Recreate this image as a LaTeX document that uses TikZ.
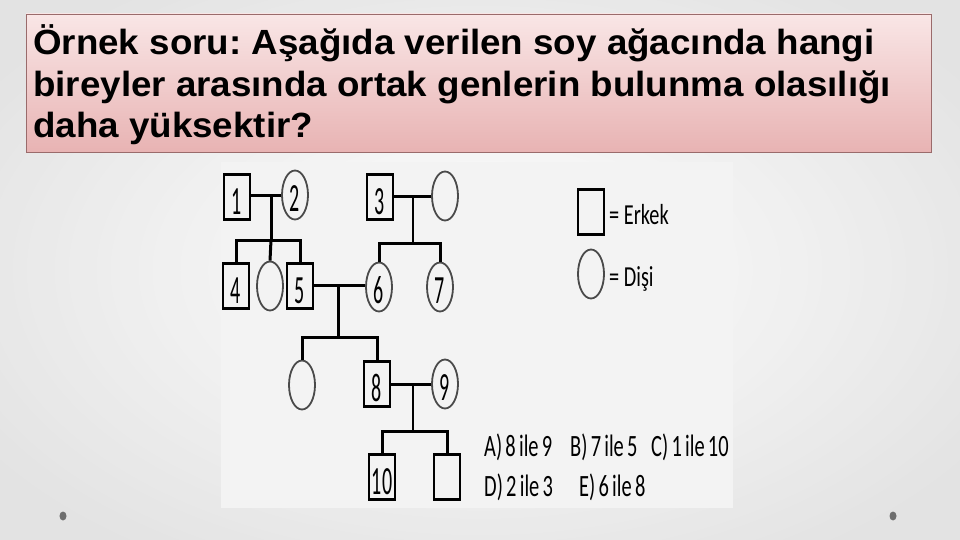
\documentclass[tikz,border=0pt]{standalone}
\usepackage{fontspec}
\setmainfont{Liberation Sans}
\newfontfamily\titlefont[FakeStretch=1.05]{Liberation Sans}
\newfontfamily\condA[FakeStretch=0.66,WordSpace=0.7]{Carlito}
\newfontfamily\condL[FakeStretch=0.7]{Carlito}
\newfontfamily\condB[FakeStretch=0.5]{Carlito}
\usetikzlibrary{shapes.geometric}
\frenchspacing
\definecolor{bggray}{HTML}{D4D4D4}
\definecolor{panel}{HTML}{F3F3F3}
\definecolor{pinktop}{HTML}{F9E6E6}
\definecolor{pinkbot}{HTML}{E8B3B3}
\definecolor{boxedge}{HTML}{9A6B6B}
\definecolor{circedge}{HTML}{4A4A4A}
\definecolor{dotcol}{HTML}{6E6E6E}
\tikzset{
  male/.style={rectangle, draw=black, line width=2.4pt, minimum width=26pt, minimum height=45pt, inner sep=0pt, text height=34pt, text depth=0pt, font=\condB\fontsize{40}{40}\selectfont},
  female/.style={ellipse, draw=circedge, line width=1.8pt, minimum width=26pt, minimum height=49pt, inner sep=0pt, text height=33pt, text depth=0pt, font=\condB\fontsize{40}{40}\selectfont},
  thickline/.style={line width=3pt},
  thinline/.style={line width=1.6pt},
  titletext/.style={anchor=base west, inner sep=0pt, font=\titlefont\bfseries\fontsize{35}{41.5}\selectfont},
  anstext/.style={anchor=base west, inner sep=0pt, font=\condA\fontsize{31}{31}\selectfont},
  legtext/.style={anchor=base west, inner sep=0pt, font=\condL\fontsize{29}{29}\selectfont},
}
\begin{document}
\begin{tikzpicture}[x=1pt,y=-1pt]
\useasboundingbox (0,0) rectangle (960,540);
% background
\shade[inner color=white, outer color=bggray] (-120,-80) rectangle (1080,620);
\fill[white, opacity=0.35] (0,0) rectangle (960,540);
% bullets
\fill[dotcol] (63,516) ellipse (3.5pt and 4.5pt);
\fill[dotcol] (893,516) ellipse (3.5pt and 4.5pt);
% title box
\shade[top color=pinktop, bottom color=pinkbot, draw=boxedge, line width=0.8pt] (26,14) rectangle (931,152);
\node[titletext] (t1) at (33,55) {Örnek soru: Aşağıda verilen soy ağacında hangi};
\node[titletext] (t2) at (33,96.5) {bireyler arasında ortak genlerin bulunma olasılığı};
\node[titletext] (t3) at (33,138) {daha yüksektir?};
% panel
\fill[panel] (221,162) rectangle (733,508);

% generation I
\node[male] (n1) at (237,197) {1};
\node[female] (n2) at (295,195) {2};
\node[male] (n3) at (380,197) {3};
\node[female] (s3) at (445,196) {};
% generation II
\node[male] (n4) at (236,286) {4};
\node[female] (f1) at (270,286) {};
\node[male] (n5) at (300,286) {5};
\node[female] (n6) at (379,287) {6};
\node[female] (n7) at (440,287) {7};
% generation III
\node[female] (f2) at (302,385) {};
\node[male] (n8) at (377,384) {8};
\node[female] (n9) at (445,384) {9};
% generation IV
\node[male] (n10) at (382,477) {10};
\node[male] (n11) at (447,477) {};

% couples and descents
\coordinate (m12) at (271,195);
\coordinate (b12) at (271,240);
\draw[thickline] (n1.east |- m12) -- (n2.west);
\draw[thickline] (m12) -- (b12);
\draw[thickline] (n4.north) |- (b12) -| (n5.north);
\draw[thickline] (b12) -- (f1.north);

\coordinate (m3) at (413,196);
\coordinate (b3) at (413,243);
\draw[thickline] (n3.east |- m3) -- (s3.west);
\draw[thinline] (m3) -- (b3);
\draw[thickline] (n6.north) |- (b3) -| (n7.north);

\coordinate (m56) at (338,285);
\coordinate (b56) at (338,337);
\draw[thickline] (n5.east |- m56) -- (n6.west |- m56);
\draw[thickline] (m56) -- (b56);
\draw[thickline] (f2.north) |- (b56) -| (n8.north);

\coordinate (m89) at (413,384);
\coordinate (b89) at (413,431);
\draw[thickline] (n8) -- (n9);
\draw[thinline] (m89) -- (b89);
\draw[thickline] (n10.north) |- (b89) -| (n11.north);

% legend
\node[male, font=\normalsize] (lm) at (591,212) {};
\node[female, font=\normalsize] (lf) at (591,274) {};
\node[legtext] (le) at (609,224) {= Erkek};
\node[legtext] (ld) at (609,286) {= Dişi};

% answers
\node[anstext] (aA) at (484,456) {A) 8 ile 9};
\node[anstext] (aB) at (570,456) {B) 7 ile 5};
\node[anstext] (aC) at (651,456) {C) 1 ile 10};
\node[anstext] (aD) at (484,496) {D) 2 ile 3};
\node[anstext] (aE) at (579,496) {E) 6 ile 8};
\end{tikzpicture}
\end{document}
